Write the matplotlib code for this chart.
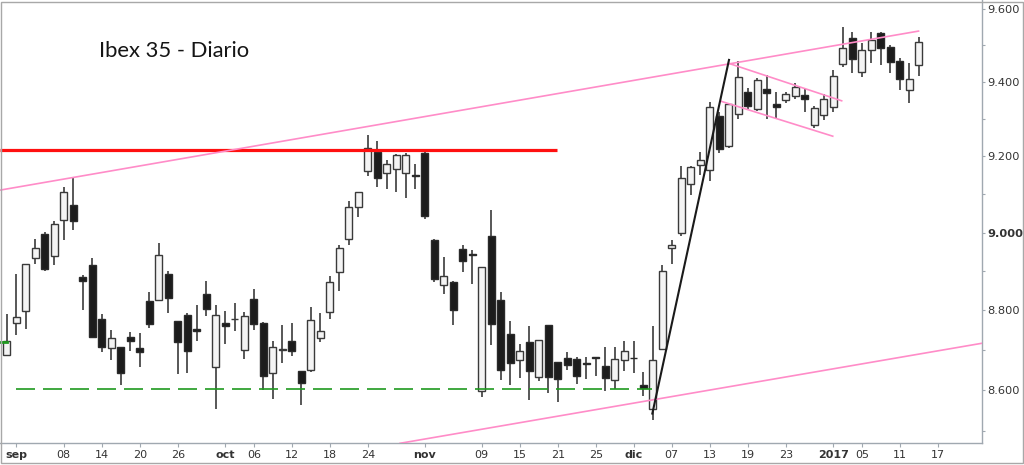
import numpy as np
import matplotlib
matplotlib.use("Agg")
import matplotlib.pyplot as plt
from matplotlib.ticker import FixedLocator, NullFormatter
from matplotlib.patches import Rectangle

# ---------------- data (trading-day index, Ibex 35 daily) ----------------
day_start = -1  # Aug 31 2016 -> index -1, Sep 1 2016 -> index 0
opens = [8688, 8768, 8799, 8934, 8997, 8939, 9032, 9071, 8885, 8915,
         8778, 8705, 8707, 8733, 8704, 8825, 8827, 8893, 8774, 8789,
         8753, 8841, 8658, 8769, 8778, 8700, 8829, 8769, 8642, 8700,
         8723, 8647, 8650, 8730, 8796, 8897, 8983, 9068, 9161, 9212,
         9156, 9168, 9157, 9150, 9210, 8980, 8866, 8872, 8957, 8945,
         8597, 8990, 8827, 8741, 8675, 8721, 8632, 8763, 8669, 8681,
         8677, 8667, 8682, 8661, 8625, 8674, 8681, 8612, 8553, 8702,
         8961, 9000, 9126, 9177, 9165, 9308, 9227, 9313, 9374, 9326,
         9382, 9340, 9352, 9363, 9365, 9283, 9311, 9331, 9450, 9520,
         9428, 9486, 9534, 9496, 9456, 9377, 9445]
highs = [8790, 8893, 8920, 8984, 9001, 9030, 9118, 9145, 8890, 8933,
         8790, 8750, 8707, 8746, 8744, 8846, 8974, 8900, 8774, 8794,
         8815, 8874, 8815, 8799, 8818, 8796, 8855, 8772, 8723, 8762,
         8769, 8647, 8808, 8794, 8887, 8967, 9083, 9105, 9258, 9240,
         9190, 9206, 9210, 9179, 9217, 8983, 8938, 8874, 8968, 8954,
         8910, 9060, 8848, 8774, 8716, 8761, 8725, 8763, 8669, 8694,
         8682, 8682, 8682, 8708, 8708, 8723, 8723, 8645, 8761, 8915,
         8982, 9176, 9174, 9213, 9345, 9319, 9341, 9456, 9384, 9411,
         9419, 9372, 9374, 9396, 9380, 9335, 9367, 9432, 9550, 9537,
         9506, 9537, 9537, 9500, 9465, 9452, 9523]
lows = [8684, 8738, 8752, 8920, 8900, 8915, 8980, 9008, 8801, 8730,
        8694, 8674, 8612, 8697, 8657, 8756, 8826, 8793, 8639, 8643,
        8723, 8786, 8553, 8716, 8748, 8677, 8750, 8600, 8578, 8667,
        8684, 8562, 8645, 8721, 8779, 8849, 8969, 9040, 9149, 9120,
        9113, 9105, 9090, 9113, 9036, 8872, 8842, 8763, 8898, 8868,
        8582, 8713, 8624, 8613, 8629, 8576, 8622, 8594, 8570, 8650,
        8614, 8627, 8635, 8597, 8603, 8648, 8643, 8586, 8525, 8702,
        8920, 8992, 9098, 9152, 9135, 9210, 9222, 9300, 9328, 9322,
        9300, 9300, 9343, 9354, 9319, 9277, 9296, 9320, 9440, 9425,
        9414, 9451, 9446, 9425, 9377, 9342, 9416]
closes = [8722, 8783, 8918, 8960, 8907, 9023, 9105, 9031, 8875, 8732,
          8708, 8730, 8643, 8723, 8694, 8766, 8942, 8832, 8721, 8697,
          8748, 8805, 8789, 8760, 8779, 8786, 8766, 8635, 8707, 8703,
          8697, 8618, 8776, 8748, 8873, 8959, 9066, 9105, 9222, 9142,
          9179, 9203, 9204, 9148, 9044, 8881, 8887, 8800, 8926, 8943,
          8910, 8766, 8650, 8667, 8697, 8647, 8725, 8633, 8627, 8662,
          8636, 8666, 8679, 8631, 8677, 8697, 8679, 8606, 8676, 8900,
          8968, 9143, 9172, 9190, 9331, 9220, 9341, 9413, 9334, 9406,
          9371, 9332, 9368, 9385, 9353, 9329, 9353, 9417, 9493, 9463,
          9486, 9514, 9492, 9453, 9409, 9409, 9510]

tick_days = [0, 5, 9, 13, 17, 22, 25, 29, 33, 37, 43, 49, 53, 57, 61,
             65, 69, 73, 77, 81, 86, 89, 93, 97]
tick_labels = ['sep', '08', '14', '20', '26', 'oct', '06', '12', '18', '24',
               'nov', '09', '15', '21', '25', 'dic', '07', '13', '19', '23',
               '2017', '05', '11', '17']
month_labels = ['sep', 'oct', 'nov', 'dic', '2017']

y_major = [8600, 8800, 9000, 9200, 9400, 9600]
y_minor = [8500, 8700, 8900, 9100, 9300, 9500]

# annotation lines (x in trading days, y in index points)
resistance_x = [-1.72, 56.95]
resistance_y = [9218, 9218]
support_x = [0.0, 66.9]
support_y = [8604, 8604]
channel_up_x = [-1.72, 94.97]
channel_up_y = [9111, 9539]
channel_low_x = [40.39, 101.62]
channel_low_y = [8469, 8717]
trend_x = [66.95, 75.02]
trend_y = [8542, 9460]
flag_up_x = [74.95, 86.88]
flag_up_y = [9451, 9349]
flag_low_x = [74.15, 85.94]
flag_low_y = [9348, 9254]
prev_mark_x = [-1.72, -1.0]
prev_mark_y = [8720, 8720]

title = "Ibex 35 - Diario"

# ---------------- figure ----------------
W, H = 1024, 465
fig = plt.figure(figsize=(W / 100, H / 100), dpi=100)
ax = fig.add_axes([0, (H - 443.3) / H, 981.7 / W, 443.3 / H])
ax.set_yscale('log')

x = np.arange(day_start, day_start + len(opens))
o = np.array(opens, float)
h = np.array(highs, float)
l = np.array(lows, float)
c = np.array(closes, float)
up = c >= o

ax.vlines(x, l, h, color='#2a2a2a', lw=1.1, zorder=2)
bottom = np.minimum(o, c)
height = np.abs(c - o)
ax.bar(x[up], height[up], bottom=bottom[up], width=0.72,
       color='#f4f4f4', edgecolor='#3a3a3a', linewidth=1.0, zorder=3)
ax.bar(x[~up], height[~up], bottom=bottom[~up], width=0.72,
       color='#1c1c1c', edgecolor='#2a2a2a', linewidth=1.0, zorder=3)

ax.plot(resistance_x, resistance_y, color='#ff1010', lw=2.3, zorder=4,
        solid_capstyle='butt')
ln, = ax.plot(support_x, support_y, color='#1f9a1f', lw=1.2, zorder=4)
ln.set_dashes((11.4, 4.8))
ax.plot(prev_mark_x, prev_mark_y, color='#1f9a1f', lw=2.0, zorder=4)
for xs, ys in [(channel_up_x, channel_up_y), (channel_low_x, channel_low_y),
               (flag_up_x, flag_up_y), (flag_low_x, flag_low_y)]:
    ax.plot(xs, ys, color='#ff8cc8', lw=1.2, zorder=4)
ax.plot(trend_x, trend_y, color='#1a1a1a', lw=1.5, zorder=5)

ax.set_xlim(-1.716, 101.62)
ax.set_ylim(8469, 9625)

# y axis on the right
ax.yaxis.tick_right()
ax.yaxis.set_major_locator(FixedLocator(y_major))
ax.set_yticklabels([f"{v / 1000:.3f}" for v in y_major])
ax.yaxis.set_minor_locator(FixedLocator(y_minor))
ax.yaxis.set_minor_formatter(NullFormatter())
for lab, v in zip(ax.get_yticklabels(), y_major):
    if v == 9000:
        lab.set_fontweight('bold')
ax.tick_params(axis='y', which='both', length=2.3, width=0.8,
               color='#a0a8b0', labelsize=8.2, labelcolor='#333333', pad=1.5)

ax.set_xticks(tick_days)
ax.set_xticklabels(tick_labels)
for lab in ax.get_xticklabels():
    if lab.get_text() in month_labels:
        lab.set_fontweight('bold')
        lab.set_color('#111111')
ax.tick_params(axis='x', length=3, width=0.8, color='#a0a8b0',
               labelsize=8, labelcolor='#333333', pad=2)

for s in ['top', 'left']:
    ax.spines[s].set_visible(False)
for s in ['right', 'bottom']:
    ax.spines[s].set_color('#a0a8b0')
    ax.spines[s].set_linewidth(1.0)
ax.set_facecolor('white')

fig.text(99.3 / W, (H - 57.3) / H, title, family='Lato', fontsize=15.8,
         color='#151515', va='baseline', ha='left')

fig.patches.append(Rectangle((0.6 / W, 2.0 / H), 1022.5 / W, 461.0 / H,
                             transform=fig.transFigure, fill=False,
                             edgecolor='#a8a8a8', lw=1.0))

fig.savefig('out.png', dpi=100)
